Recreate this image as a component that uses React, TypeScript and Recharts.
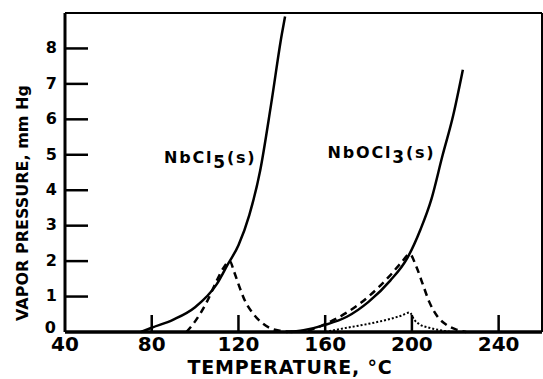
import { LineChart, Line, XAxis, YAxis, ReferenceDot, Label } from 'recharts';

// temperature (°C) / vapor pressure (mm Hg)
const nbcl5SolidT = [75, 80, 90, 100, 110, 115, 120, 125, 130, 135, 140, 141.5];
const nbcl5SolidP = [0, 0.12, 0.35, 0.7, 1.35, 1.9, 2.45, 3.3, 4.55, 6.4, 8.4, 8.9];

const nbcl5DashT = [96, 100, 105, 110, 113, 116, 118, 120, 123, 127, 131, 135, 140, 146];
const nbcl5DashP = [0, 0.3, 0.8, 1.45, 1.8, 2.0, 1.7, 1.35, 0.88, 0.5, 0.25, 0.1, 0.03, 0];

const nbocl3SolidT = [142, 150, 160, 170, 180, 190, 198, 204, 209, 214, 219, 223.5];
const nbocl3SolidP = [0, 0.05, 0.2, 0.43, 0.85, 1.45, 2.1, 2.9, 3.75, 4.95, 6.1, 7.4];

const nbocl3DashT = [152, 160, 170, 180, 190, 195, 199, 202, 205, 208, 212, 216, 220, 225];
const nbocl3DashP = [0.03, 0.22, 0.55, 1.0, 1.6, 1.95, 2.2, 1.85, 1.35, 0.85, 0.42, 0.2, 0.08, 0];

const nbocl3DotT = [160, 170, 180, 190, 195, 199, 201, 204, 208, 213, 218];
const nbocl3DotP = [0, 0.12, 0.23, 0.37, 0.46, 0.55, 0.35, 0.2, 0.12, 0.05, 0];

const xTicks = [40, 80, 120, 160, 200, 240];
const xInnerTicks = [80, 120, 160, 200, 240];
const yTicks = [0, 1, 2, 3, 4, 5, 6, 7, 8];
const yInnerTicks = [1, 2, 3, 4, 5, 6, 7, 8];

const toPoints = (t: number[], p: number[]) => t.map((v, i) => ({ t: v, p: p[i] }));

const FONT = 'DejaVu Sans';
const INK = '#000';

// the right axis box sticks out past the 543px window and gets cropped,
// so its inward ticks have room to be drawn
const W = 543;
const H = 379;
const RIGHT_AXIS_W = 21;

// bottom / left inward ticks + labels; x/y given by recharts sit on the axis line
const BottomTick = (props: any) => {
  const { x, y, payload } = props;
  return (
    <g>
      {payload.value !== 40 && <line x1={x} x2={x} y1={y + 1} y2={y - 17} stroke={INK} strokeWidth={2.5} />}
      <text x={x} y={y + 5} dy="0.72em" textAnchor="middle" fontFamily={FONT} fontWeight="bold" fontSize={20} fill={INK}>
        {payload.value}
      </text>
    </g>
  );
};
const LeftTick = (props: any) => {
  const { x, y, payload } = props;
  return (
    <g>
      {payload.value !== 0 && <line x1={x - 1} x2={x + 23} y1={y} y2={y} stroke={INK} strokeWidth={2.5} />}
      <text x={payload.value === 0 ? x - 9 : x - 8} y={payload.value === 0 ? y - 5 : y - 1} dy="0.36em" textAnchor="end"
        fontFamily={FONT} fontWeight="bold" fontSize={16} fill={INK}>
        {payload.value}
      </text>
    </g>
  );
};

function CurveLabel({ cx, cy, base, sub }: { cx?: number; cy?: number; base: string; sub: string }) {
  return (
    <text x={cx} y={cy} textAnchor="middle" fontFamily={FONT} fontWeight="bold" fontSize={16} fill={INK} letterSpacing={1.8}>
      <tspan>{base}</tspan>
      <tspan dy={5} fontSize={17}>{sub}</tspan>
      <tspan dy={-5}>(s)</tspan>
    </text>
  );
}

export default function App() {
  return (
    <div style={{ position: 'absolute', left: 0, top: 0, width: W, height: H, overflow: 'hidden' }}>
      <LineChart width={W - 1 + RIGHT_AXIS_W} height={H} margin={{ top: 0, right: 0, bottom: 0, left: 0 }}>
        <XAxis
          xAxisId="b"
          dataKey="t"
          type="number"
          domain={[40, 260]}
          ticks={xTicks}
          interval={0}
          height={47}
          tickSize={0}
          tickMargin={0}
          axisLine={{ stroke: INK, strokeWidth: 3.5 }}
          tickLine={false}
          tick={<BottomTick />}
        >
          <Label
            content={() => (
              <text x={290} y={374} textAnchor="middle" fontFamily={FONT} fontWeight="bold" fontSize={19} letterSpacing={0.8} fill={INK}>
                TEMPERATURE, °C
              </text>
            )}
          />
        </XAxis>
        <XAxis
          xAxisId="t"
          orientation="top"
          dataKey="t"
          type="number"
          domain={[40, 260]}
          ticks={xInnerTicks}
          interval={0}
          height={13}
          tickSize={-18}
          axisLine={{ stroke: INK, strokeWidth: 2 }}
          tickLine={{ stroke: INK, strokeWidth: 2.5 }}
          tick={false}
        />
        <YAxis
          yAxisId="l"
          type="number"
          domain={[0, 9]}
          ticks={yTicks}
          interval={0}
          width={65}
          tickSize={0}
          tickMargin={0}
          axisLine={{ stroke: INK, strokeWidth: 3 }}
          tickLine={false}
          tick={<LeftTick />}
        >
          <Label
            content={() => (
              <text
                x={22}
                y={203}
                transform="rotate(-90 22 203)"
                textAnchor="middle"
                dominantBaseline="central"
                fontFamily={FONT}
                fontWeight="bold"
                fontSize={16}
                fill={INK}
              >
                VAPOR PRESSURE, mm Hg
              </text>
            )}
          />
        </YAxis>
        <YAxis
          yAxisId="r"
          orientation="right"
          type="number"
          domain={[0, 9]}
          ticks={yInnerTicks}
          interval={0}
          width={RIGHT_AXIS_W}
          tickSize={-19}
          axisLine={{ stroke: INK, strokeWidth: 2 }}
          tickLine={{ stroke: INK, strokeWidth: 2.5 }}
          tick={false}
        />

        {/* invisible series so the top and right frame axes get a scale of their own */}
        <Line xAxisId="t" yAxisId="r" data={toPoints(nbcl5SolidT, nbcl5SolidP)} dataKey="p"
          stroke="none" dot={false} activeDot={false} legendType="none" isAnimationActive={false} />

        <Line xAxisId="b" yAxisId="l" data={toPoints(nbcl5SolidT, nbcl5SolidP)} dataKey="p" type="monotone"
          stroke={INK} strokeWidth={2.5} dot={false} isAnimationActive={false} />
        <Line xAxisId="b" yAxisId="l" data={toPoints(nbcl5DashT, nbcl5DashP)} dataKey="p" type="monotone"
          stroke={INK} strokeWidth={2.5} strokeDasharray="7 5" dot={false} isAnimationActive={false} />
        <Line xAxisId="b" yAxisId="l" data={toPoints(nbocl3SolidT, nbocl3SolidP)} dataKey="p" type="monotone"
          stroke={INK} strokeWidth={2.5} dot={false} isAnimationActive={false} />
        <Line xAxisId="b" yAxisId="l" data={toPoints(nbocl3DashT, nbocl3DashP)} dataKey="p" type="monotone"
          stroke={INK} strokeWidth={2.5} strokeDasharray="7 5" dot={false} isAnimationActive={false} />
        <Line xAxisId="b" yAxisId="l" data={toPoints(nbocl3DotT, nbocl3DotP)} dataKey="p" type="monotone"
          stroke={INK} strokeWidth={2} strokeDasharray="2 2" dot={false} isAnimationActive={false} />

        <ReferenceDot xAxisId="b" yAxisId="l" x={107} y={4.78} r={0}
          shape={(p: any) => <CurveLabel cx={p.cx} cy={p.cy} base="NbCl" sub="5" />} />
        <ReferenceDot xAxisId="b" yAxisId="l" x={186} y={4.92} r={0}
          shape={(p: any) => <CurveLabel cx={p.cx} cy={p.cy} base="NbOCl" sub="3" />} />
      </LineChart>
    </div>
  );
}
